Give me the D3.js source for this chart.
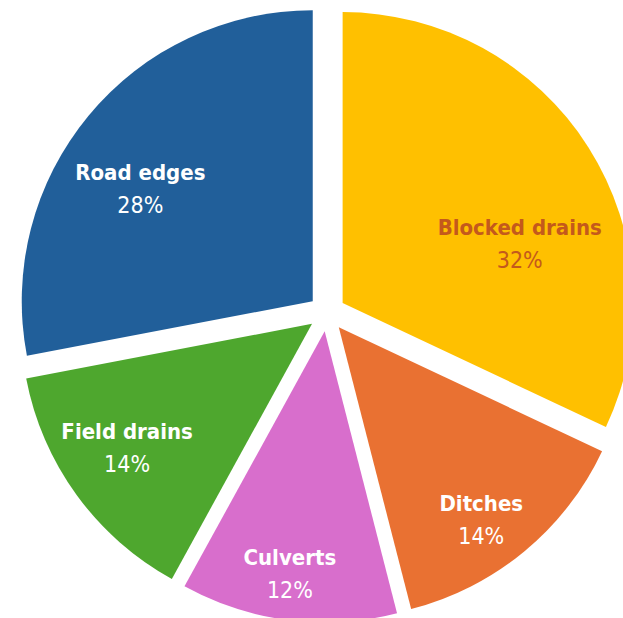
<!DOCTYPE html>
<html>
<head>
<meta charset="utf-8">
<script src="https://cdn.jsdelivr.net/npm/d3@7/dist/d3.min.js"></script>
<style>
  html, body { margin: 0; padding: 0; background: #ffffff; }
  svg { display: block; }
  .name { font-family: "DejaVu Sans Condensed", "Liberation Sans Narrow", "DejaVu Sans", sans-serif; font-weight: bold; font-size: 22px; }
  .pct  { font-family: "DejaVu Sans Condensed", "Liberation Sans Narrow", "DejaVu Sans", sans-serif; font-weight: normal; font-size: 23px; }
</style>
</head>
<body>
<svg id="chart" width="623" height="618"></svg>
<script>
// Share of blockages by location (%)
const categories = ["Blocked drains", "Ditches", "Culverts", "Field drains", "Road edges"];
const shares     = [32, 14, 12, 14, 28];
const colors     = ["#FFC000", "#E97132", "#D86ECC", "#4EA72E", "#215F9A"];
const labelColors = ["#C4591C", "#ffffff", "#ffffff", "#ffffff", "#ffffff"];

// Layout
const width = 623, height = 618;
const cx = 327, cy = 313;
const radius = 291;
const explode = 18.5;
// label block centre, as [angle in degrees clockwise from top, distance] from each slice's tip
const labelLayout = {
  "Blocked drains": [71.3, 187],
  "Ditches":        [143.4, 239],
  "Culverts":       [188.2, 244],
  "Field drains":   [236.4, 222],
  "Road edges":     [303.2, 206]
};

const data = categories.map((c, i) => ({ name: c, value: shares[i], color: colors[i], labelColor: labelColors[i] }));

const svg = d3.select("#chart");
svg.append("rect").attr("width", width).attr("height", height).attr("fill", "#ffffff");

const pie = d3.pie().value(d => d.value).sort(null).startAngle(0).endAngle(2 * Math.PI);
const arc = d3.arc().innerRadius(0).outerRadius(radius);

const g = svg.append("g").attr("transform", `translate(${cx},${cy})`);

const slices = g.selectAll("g.slice")
  .data(pie(data))
  .join("g")
  .attr("class", "slice")
  .attr("transform", d => {
    const mid = (d.startAngle + d.endAngle) / 2;
    return `translate(${explode * Math.sin(mid)},${-explode * Math.cos(mid)})`;
  });

slices.append("path")
  .attr("d", arc)
  .attr("fill", d => d.data.color);

const labels = slices.append("g")
  .attr("transform", d => {
    const [deg, dist] = labelLayout[d.data.name];
    const a = deg * Math.PI / 180;
    return `translate(${dist * Math.sin(a)},${-dist * Math.cos(a)})`;
  });

labels.append("text")
  .attr("class", "name")
  .attr("text-anchor", "middle")
  .attr("y", -8)
  .attr("fill", d => d.data.labelColor)
  .text(d => d.data.name);

labels.append("text")
  .attr("class", "pct")
  .attr("text-anchor", "middle")
  .attr("y", 25)
  .attr("fill", d => d.data.labelColor)
  .text(d => d.data.value + "%");
</script>
</body>
</html>
